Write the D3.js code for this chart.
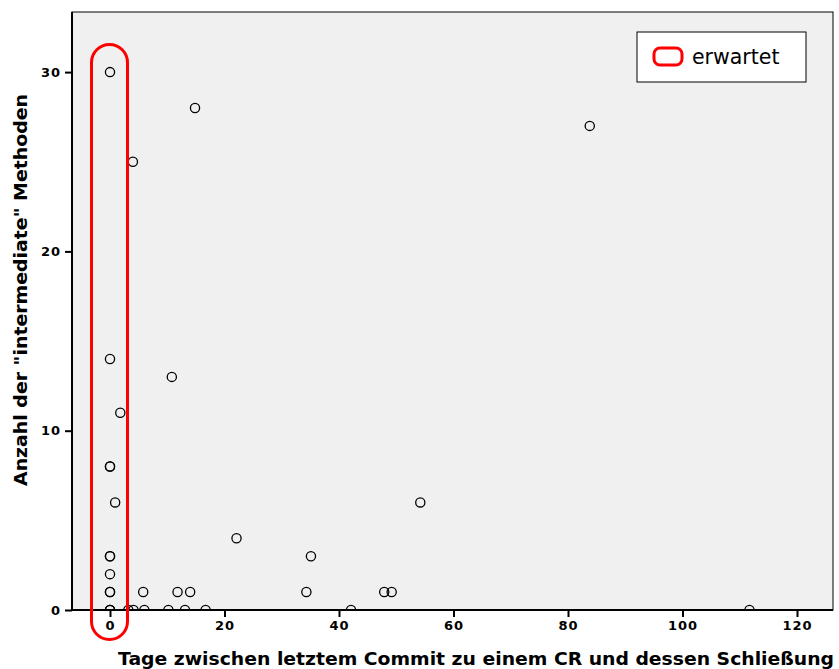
<!DOCTYPE html>
<html><head><meta charset="utf-8">
<script src="https://cdn.jsdelivr.net/npm/d3@7"></script>
<style>body{margin:0;background:#fff}svg{display:block}</style>
</head><body>
<svg id="c" width="839" height="669"></svg>
<script>
// Data: days between last commit and CR closing (x), count of intermediate methods (y)
const daysValues = [0, 14.85, 83.8, 4.0, 0, 10.8, 1.8, 0, 0, 0.9, 54.2, 22.1, 0, 0, 35.1, 0,
  0, 0, 5.8, 11.8, 14.0, 34.3, 47.9, 49.2,
  0, 0, 0, 3.2, 4.1, 6.0, 10.2, 13.1, 16.7, 42.1, 111.7];
const methodValues = [30, 28, 27, 25, 14, 13, 11, 8, 8, 6, 6, 4, 3, 3, 3, 2,
  1, 1, 1, 1, 1, 1, 1, 1,
  0, 0, 0, 0, 0, 0, 0, 0, 0, 0, 0];
const xTicks = [0, 20, 40, 60, 80, 100, 120];
const yTicks = [0, 10, 20, 30];
const xLabel = "Tage zwischen letztem Commit zu einem CR und dessen Schließung";
const yLabel = "Anzahl der \"intermediate\" Methoden";
const legendLabel = "erwartet";

const svg = d3.select("#c");
const L = 72, R = 833, T = 12, B = 610;
const x = d3.scaleLinear().domain([0, 20]).range([110, 224.5]);
x.domain([x.invert(L), x.invert(R)]).range([L, R]);
const y = d3.scaleLinear().domain([0, 10]).range([B, 430.7]);
y.domain([0, y.invert(T)]).range([B, T]);

svg.append("defs").append("clipPath").attr("id", "clip")
  .append("rect").attr("x", L).attr("y", T).attr("width", R - L).attr("height", B - T);

svg.append("rect").attr("x", L).attr("y", T).attr("width", R - L).attr("height", B - T)
  .attr("fill", "#f0f0f0").attr("stroke", "#000").attr("stroke-width", 1);

const font = "'DejaVu Sans', sans-serif";

// axes
const xAxis = svg.append("g").attr("transform", `translate(0,${B})`)
  .call(d3.axisBottom(x).tickValues(xTicks).tickSize(7).tickPadding(4).tickFormat(d3.format("d")));
const yAxis = svg.append("g").attr("transform", `translate(${L},0)`)
  .call(d3.axisLeft(y).tickValues(yTicks).tickSize(7).tickPadding(4).tickFormat(d3.format("d")));
[xAxis, yAxis].forEach(a => {
  a.select(".domain").remove();
  a.selectAll(".tick line").attr("stroke", "#000").attr("stroke-width", 2);
  a.selectAll(".tick text").attr("fill", "#000").attr("font-family", font)
    .attr("font-weight", "bold").attr("font-size", 13).attr("letter-spacing", 1);
});
svg.append("line").attr("x1", L).attr("x2", R).attr("y1", B).attr("y2", B).attr("stroke", "#000").attr("stroke-width", 2);
svg.append("line").attr("x1", L).attr("x2", L).attr("y1", T).attr("y2", B).attr("stroke", "#000").attr("stroke-width", 2);

// points
svg.append("g").attr("clip-path", "url(#clip)")
  .selectAll("circle").data(daysValues.map((d, i) => [d, methodValues[i]])).join("circle")
  .attr("cx", d => x(d[0])).attr("cy", d => y(d[1])).attr("r", 4.6)
  .attr("fill", "none").attr("stroke", "#000").attr("stroke-width", 1.3);

// red highlight
svg.append("rect").attr("x", 91.5).attr("y", 44.5).attr("width", 36).attr("height", 595)
  .attr("rx", 18).attr("ry", 18).attr("fill", "none").attr("stroke", "#ff0000").attr("stroke-width", 3);

// labels
svg.append("text").attr("x", 118).attr("y", 665).attr("font-family", font).attr("font-weight", "bold")
  .attr("font-size", 17).attr("textLength", 716).attr("lengthAdjust", "spacingAndGlyphs").text(xLabel);
svg.append("text").attr("transform", "translate(27,290) rotate(-90)").attr("text-anchor", "middle")
  .attr("font-family", font).attr("font-weight", "bold").attr("font-size", 17)
  .attr("textLength", 392).attr("lengthAdjust", "spacingAndGlyphs").text(yLabel);

// legend
const lg = svg.append("g");
lg.append("rect").attr("x", 637).attr("y", 32).attr("width", 169).attr("height", 50)
  .attr("fill", "#fff").attr("stroke", "#000").attr("stroke-width", 1);
lg.append("rect").attr("x", 654).attr("y", 48).attr("width", 28).attr("height", 17).attr("rx", 6)
  .attr("fill", "none").attr("stroke", "#ff0000").attr("stroke-width", 3);
lg.append("text").attr("x", 692).attr("y", 64).attr("font-family", font).attr("font-size", 20.5)
  .attr("fill", "#000").text(legendLabel);
</script>
</body></html>
